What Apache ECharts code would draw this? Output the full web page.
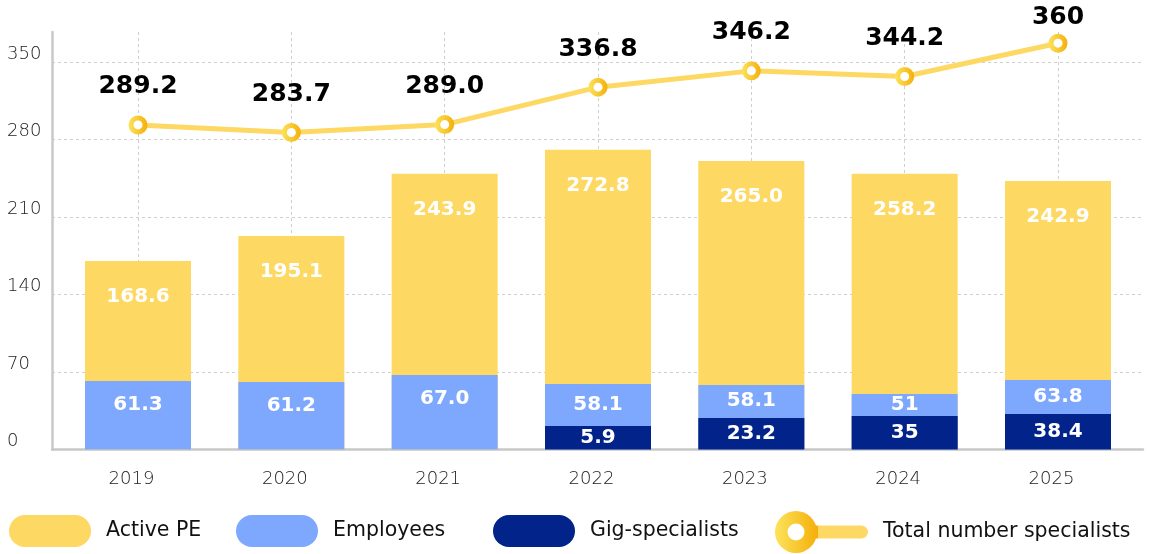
<!DOCTYPE html>
<html>
<head>
<meta charset="utf-8">
<script src="https://cdn.jsdelivr.net/npm/echarts@6/dist/echarts.min.js"></script>
<style>
  html, body { margin: 0; padding: 0; background: #fff; }
  #chart { width: 1149px; height: 554px; }
</style>
</head>
<body>
<div id="chart"></div>
<script>
// categories
var years = ['2019', '2020', '2021', '2022', '2023', '2024', '2025'];
var yTicks = [0, 70, 140, 210, 280, 350];
var yMax = 377;

// bar heights as drawn in the picture
var peHeights = [170.3, 192.9, 248.9, 270.6, 260.6, 248.9, 242.5];
var empHeights = [61.9, 61.0, 67.3, 59.2, 58.3, 50.1, 62.8];
var gigHeights = [null, null, null, 21.2, 28.5, 30.3, 32.1];
var totalHeights = [293.1, 286.2, 293.4, 327.2, 341.9, 336.8, 366.9];

// values printed on the marks
var peLabels = ['168.6', '195.1', '243.9', '272.8', '265.0', '258.2', '242.9'];
var empLabels = ['61.3', '61.2', '67.0', '58.1', '58.1', '51', '63.8'];
var gigLabels = ['', '', '', '5.9', '23.2', '35', '38.4'];
var totalLabels = ['289.2', '283.7', '289.0', '336.8', '346.2', '344.2', '360'];

var FONT = 'DejaVu Sans';
var YELLOW = '#FDD862';
var BLUE = '#7DA8FD';
var NAVY = '#02238A';
var GRID_LINE = '#cfcfcf';
var AXIS_LINE = '#c8c8c8';
var GRID_TOP = 32, GRID_BOTTOM = 104.5, HEIGHT = 554;
var pxPerUnit = (HEIGHT - GRID_TOP - GRID_BOTTOM) / yMax;

var ringGrad = {
    type: 'linear', x: 0, y: 0, x2: 1, y2: 0,
    colorStops: [{offset: 0, color: '#FCE35C'}, {offset: 1, color: '#F5AF0A'}]
};
var totalIconGrad = {
    type: 'linear', x: 0, y: 0, x2: 1, y2: 0,
    colorStops: [
        {offset: 0, color: '#FCE35C'},
        {offset: 0.46, color: '#F5AF0A'},
        {offset: 0.465, color: YELLOW},
        {offset: 1, color: YELLOW}
    ]
};
var pillIcon = 'path://M16,0 L66,0 A16,16 0 0,1 66,32 L16,32 A16,16 0 0,1 16,0 Z';
var totalIcon = 'path://M0,21 A21,21 0 1,1 42,21 A21,21 0 1,1 0,21 Z ' +
    'M12.5,21 A8.5,8.5 0 1,0 29.5,21 A8.5,8.5 0 1,0 12.5,21 Z ' +
    'M40,14.5 L86.5,14.5 A6.5,6.5 0 0,1 86.5,27.5 L40,27.5 Z';

function legendItem(name, left, icon, w, h, top, extraStyle) {
    var d = {name: name, icon: icon};
    if (extraStyle) d.itemStyle = extraStyle;
    return {
        left: left, top: top, padding: 0,
        itemWidth: w, itemHeight: h,
        selectedMode: false,
        data: [d],
        textStyle: {fontFamily: FONT, fontSize: 20.5, color: '#111', padding: [0, 0, 0, 10]}
    };
}

// employees label: centred in the visible part above the gig bar, else near the top
var empData = empHeights.map(function (h, i) {
    var dist = 14;
    if (gigHeights[i] != null) {
        dist = Math.max(0, (h - gigHeights[i]) * pxPerUnit / 2 - 10.5);
    }
    return {value: h, label: {distance: dist}};
});
// total label: pulled closer when it would leave the chart
var totalData = totalHeights.map(function (h) {
    return h > yTicks[yTicks.length - 1] ? {value: h, label: {distance: 4}} : h;
});

var chart = echarts.init(document.getElementById('chart'));
chart.setOption({
    animation: false,
    legend: [
        legendItem('Active PE', 9, pillIcon, 82, 32, 515),
        legendItem('Employees', 236, pillIcon, 82, 32, 515),
        legendItem('Gig-specialists', 493, pillIcon, 82, 32, 515),
        legendItem('Total number specialists', 775, totalIcon, 93, 42, 511,
            {color: totalIconGrad, borderWidth: 0})
    ],
    grid: [
        // frame: axis lines, y labels, horizontal grid lines
        {left: 52, right: 6, top: GRID_TOP, bottom: GRID_BOTTOM},
        // marks: category centres from first to last year
        {left: 138, right: 91, top: GRID_TOP, bottom: GRID_BOTTOM}
    ],
    xAxis: [{
        gridIndex: 0, type: 'value', min: 0, max: 1,
        axisLine: {show: true, lineStyle: {color: AXIS_LINE, width: 2.5}},
        axisTick: {show: false}, axisLabel: {show: false}, splitLine: {show: false}
    }, {
        gridIndex: 1, type: 'category', boundaryGap: false, data: years,
        axisLine: {show: false}, axisTick: {show: false},
        axisLabel: {
            interval: 0, margin: 21, fontFamily: FONT, fontSize: 18, fontWeight: 300,
            color: '#222', padding: [0, 13, 0, 0]
        },
        splitLine: {show: true, interval: 0, lineStyle: {color: GRID_LINE, type: [3, 3], width: 1}}
    }],
    yAxis: [{
        gridIndex: 0, type: 'value', min: yTicks[0], max: yMax, interval: 70,
        axisLine: {show: true, lineStyle: {color: AXIS_LINE, width: 2.5}},
        axisTick: {show: false},
        axisLabel: {
            align: 'left', verticalAlign: 'bottom', margin: 45, showMaxLabel: false,
            fontFamily: FONT, fontSize: 18, fontWeight: 300, color: '#222', lineHeight: 16,
            formatter: function (v) { return yTicks.indexOf(v) >= 0 ? String(v) : ''; }
        },
        splitLine: {
            show: true, showMinLine: false, showMaxLine: false,
            lineStyle: {color: GRID_LINE, type: [3, 3], width: 1}
        }
    }, {
        gridIndex: 1, type: 'value', min: 0, max: yMax, show: false
    }],
    series: [{
        name: 'Active PE', type: 'bar', xAxisIndex: 1, yAxisIndex: 1,
        data: peHeights, barWidth: 106, barGap: '-100%', clip: false,
        itemStyle: {color: YELLOW},
        label: {
            show: true, position: 'insideTop', distance: 26,
            color: '#fff', fontFamily: FONT, fontWeight: 'bold', fontSize: 20,
            formatter: function (p) { return peLabels[p.dataIndex]; }
        }
    }, {
        name: 'Employees', type: 'bar', xAxisIndex: 1, yAxisIndex: 1,
        data: empData, barWidth: 106, barGap: '-100%', clip: false,
        itemStyle: {color: BLUE},
        label: {
            show: true, position: 'insideTop',
            color: '#fff', fontFamily: FONT, fontWeight: 'bold', fontSize: 20,
            formatter: function (p) { return empLabels[p.dataIndex]; }
        }
    }, {
        name: 'Gig-specialists', type: 'bar', xAxisIndex: 1, yAxisIndex: 1,
        data: gigHeights, barWidth: 106, barGap: '-100%', clip: false,
        itemStyle: {color: NAVY},
        label: {
            show: true, position: 'inside',
            color: '#fff', fontFamily: FONT, fontWeight: 'bold', fontSize: 20,
            formatter: function (p) { return gigLabels[p.dataIndex]; }
        }
    }, {
        name: 'Total number specialists', type: 'line', xAxisIndex: 1, yAxisIndex: 1,
        data: totalData, clip: false, z: 5,
        symbol: 'circle', symbolSize: 14,
        lineStyle: {color: YELLOW, width: 5},
        itemStyle: {color: '#fff', borderColor: ringGrad, borderWidth: 5},
        label: {
            show: true, position: 'top', distance: 16,
            color: '#000', fontFamily: FONT, fontWeight: 'bold', fontSize: 25,
            formatter: function (p) { return totalLabels[p.dataIndex]; }
        }
    }]
});
</script>
</body>
</html>
